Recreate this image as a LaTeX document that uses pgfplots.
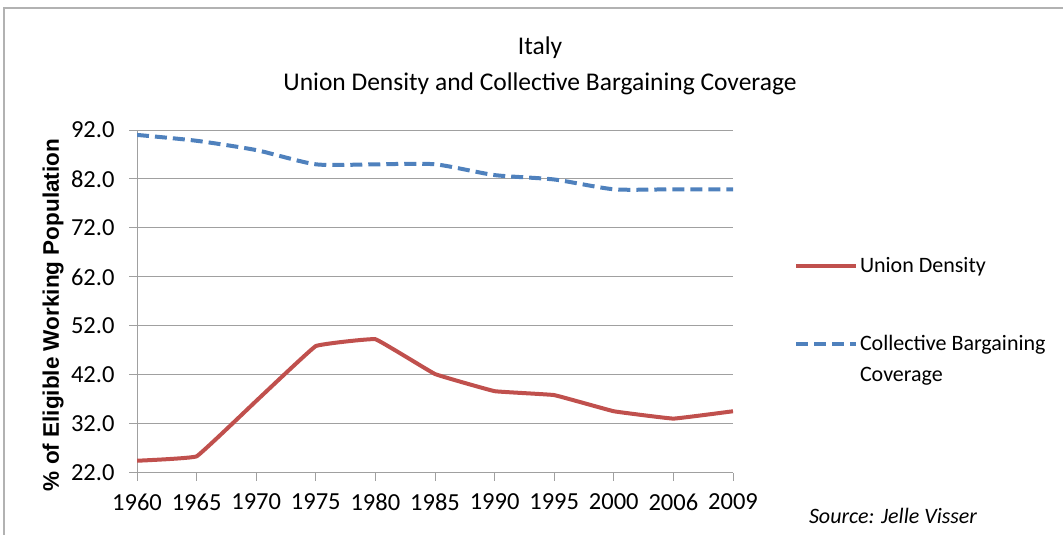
\documentclass[border=0pt]{standalone}
\usepackage{pgfplots}
\pgfplotsset{compat=1.18}
\usepackage{fontspec}
\setmainfont{Carlito}
\newfontfamily\labfont{Liberation Sans}
\definecolor{cbred}{HTML}{C0504D}
\definecolor{cbblue}{HTML}{4F81BD}
\definecolor{gridgray}{HTML}{A0A0A0}
\pgfplotsset{twoline legend/.style={legend image code/.code={\draw[##1] (0pt,15.5pt) -- (60pt,15.5pt);}}}
\begin{document}
\begin{tikzpicture}[x=1pt,y=1pt]
\useasboundingbox (0,0) rectangle (1063,535);
\draw[gray!60, line width=2pt] (4,-5) -- (4,527) -- (1070,527);
\node[font=\fontsize{25.5}{30}\selectfont] at (540,487) {Italy};
\node[font=\fontsize{25.5}{30}\selectfont] at (540,451) {Union Density and Collective Bargaining Coverage};
\node[font=\labfont\bfseries\fontsize{22.5}{26}\selectfont, rotate=90] at (53,220) {\% of Eligible Working Population};
\node[font=\itshape\fontsize{22}{26}\selectfont] at (893,19) {Source: Jelle Visser};
\begin{axis}[
  at={(137pt,62pt)}, anchor=south west,
  scale only axis, width=596pt, height=343pt,
  xmin=0, xmax=10, ymin=22, ymax=92,
  xtick={0,...,10},
  xticklabels={1960,1965,1970,1975,1980,1985,1990,1995,2000,2006,2009},
  ytick={22,32,...,92},
  yticklabel style={xshift=-11pt, /pgf/number format/fixed, /pgf/number format/fixed zerofill, /pgf/number format/precision=1},
  /pgf/number format/assume math mode=true,
  ticklabel style={font=\fontsize{24.5}{29}\selectfont},
  ymajorgrids,
  grid style={gridgray, line width=1pt},
  axis x line*=bottom, axis y line*=left,
  axis line style={gridgray, line width=1pt, -},
  tick style={gridgray, line width=1pt},
  tick align=outside,
  major tick length=8pt,
  xticklabel style={yshift=-9pt},
  legend style={at={(1.097,0.64)}, anchor=north west, draw=none, fill=none,
    font=\fontsize{22}{31}\selectfont, row sep=57pt,
    nodes={align=left, inner sep=2pt}},
  legend cell align=left,
  legend image code/.code={\draw[#1] (0pt,0pt) -- (60pt,0pt);},
]
\addplot[cbred, line width=4pt, smooth, tension=0.12] coordinates {
(0,24.5) (1,25.4) (2,36.7) (3,47.9) (4,49.3) (5,42.2) (6,38.7) (7,37.9) (8,34.6) (9,33.1) (10,34.6)};
\addlegendentry{Union Density}
\addplot[cbblue, line width=4pt, dash pattern=on 12pt off 6pt, smooth, tension=0.4, twoline legend] coordinates {
(0,91.0) (1,89.8) (2,87.9) (3,85.0) (4,85.0) (5,85.0) (6,82.8) (7,81.9) (8,79.9) (9,79.9) (10,79.9)};
\addlegendentry{Collective Bargaining\\Coverage}
\end{axis}
\end{tikzpicture}
\end{document}
